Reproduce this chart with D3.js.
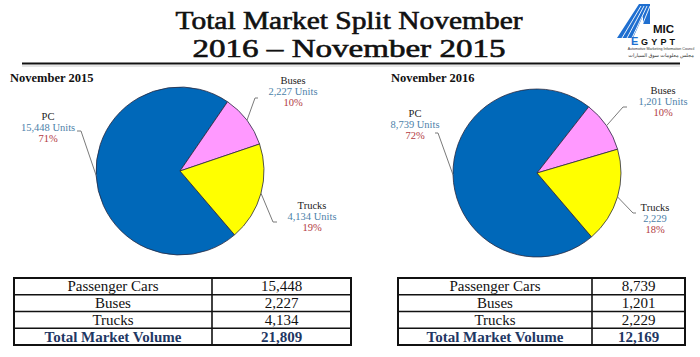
<!DOCTYPE html>
<html><head><meta charset="utf-8">
<script src="https://cdn.jsdelivr.net/npm/d3@7"></script>
<style>
html,body{margin:0;padding:0;background:#fff;}
svg{display:block;}
</style></head>
<body>
<svg id="chart" width="700" height="357"></svg>
<script>
// ---------- DATA ----------
const titleLines = ["Total Market Split November", "2016 \u2013 November 2015"];
const pieTitles = ["November 2015", "November 2016"];
const categories = ["PC", "Buses", "Trucks"];
const tableLabels = ["Passenger Cars", "Buses", "Trucks"];
const totalLabel = "Total Market Volume";
const values2015 = [15448, 2227, 4134];
const values2016 = [8739, 1201, 2229];
const pct2015 = ["71%", "10%", "19%"];
const pct2016 = ["72%", "10%", "18%"];
const unitLabels2015 = ["15,448 Units", "2,227 Units", "4,134 Units"];
const unitLabels2016 = ["8,739 Units", "1,201 Units", "2,229"];
const sliceColors = ["#0068b9", "#ff99ff", "#ffff00"];

// ---------- LAYOUT ----------
const svg = d3.select("#chart");
svg.append("rect").attr("width", 700).attr("height", 357).attr("fill", "#fff");
const serif = "'Liberation Serif', 'DejaVu Serif', serif";

// Title
const titleWidths = [347, 313];
svg.append("g").selectAll("text").data(titleLines).join("text")
  .attr("x", 349).attr("y", (d, i) => 29 + i * 28)
  .attr("text-anchor", "middle")
  .attr("font-family", serif).attr("font-size", 25).attr("fill", "#111")
  .attr("stroke", "#111").attr("stroke-width", 0.6)
  .attr("textLength", (d, i) => titleWidths[i]).attr("lengthAdjust", "spacingAndGlyphs")
  .text(d => d);

// underline
svg.append("line").attr("x1", 22).attr("x2", 680).attr("y1", 63.5).attr("y2", 63.5)
  .attr("stroke", "#111").attr("stroke-width", 2);
svg.append("line").attr("x1", 22).attr("x2", 680).attr("y1", 66).attr("y2", 66)
  .attr("stroke", "#ccc").attr("stroke-width", 1);

// Logo
const logo = svg.append("g");
logo.append("path").attr("d", "M617,38 L639,4 L650,4 L650,24 L643,24 L643,16 L633,38 Z").attr("fill", "#1f6fd0");
[0, 1, 2, 3].forEach(i => {
  logo.append("line").attr("x1", 622 + i * 5).attr("y1", 38).attr("x2", 641 + i * 3).attr("y2", 6)
    .attr("stroke", "#fff").attr("stroke-width", 0.9);
});
logo.append("text").attr("x", 653).attr("y", 33).attr("font-family", "'Liberation Sans', Arial, sans-serif")
  .attr("font-weight", "bold").attr("font-size", 11.5).attr("fill", "#111").text("MIC");
logo.append("text").attr("x", 631).attr("y", 44.5).attr("font-family", "'Liberation Sans', Arial, sans-serif")
  .attr("font-weight", "bold").attr("font-size", 11).attr("fill", "#1f6fd0").text("E");
logo.append("text").attr("x", 641).attr("y", 44.5).attr("font-family", "'Liberation Sans', Arial, sans-serif")
  .attr("font-weight", "bold").attr("font-size", 9).attr("letter-spacing", 3.2).attr("fill", "#111").text("GYPT");
logo.append("text").attr("x", 661).attr("y", 50).attr("text-anchor", "middle")
  .attr("font-family", "'Liberation Sans', Arial, sans-serif").attr("font-size", 3.6).attr("fill", "#333")
  .text("Automotive Marketing Information Council");
logo.append("text").attr("x", 661).attr("y", 57).attr("text-anchor", "middle")
  .attr("font-family", "'Noto Sans', 'DejaVu Sans', sans-serif").attr("font-size", 5).attr("fill", "#333")
  .text("مجلس معلومات سوق السيارات");

// ---------- PIES ----------
const r = 84;
const startA = 139.5 * Math.PI / 180;
const pieGen = d3.pie().sort(null).startAngle(startA).endAngle(startA + 2 * Math.PI);
const arcGen = d3.arc().innerRadius(0).outerRadius(r);
const edgeArc = d3.arc().innerRadius(r).outerRadius(r);

const charts = [
  { title: pieTitles[0], values: values2015, units: unitLabels2015, pct: pct2015,
    cx: 180, cy: 171, titleX: 10,
    lab: [ { elbow: [-99, -40], end: [-103, -40], tx: -132, ty: -51 },
           { elbow: [75, -73], end: [78, -73], tx: 113, ty: -87 },
           { elbow: [93, 51], end: [97, 51], tx: 132, ty: 38 } ] },
  { title: pieTitles[1], values: values2016, units: unitLabels2016, pct: pct2016,
    cx: 537, cy: 173, titleX: 391,
    lab: [ { elbow: [-99, -40], end: [-102, -40], tx: -122, ty: -56 },
           { elbow: [86, -66], end: [90, -66], tx: 126, ty: -79 },
           { elbow: [96, 40], end: [99, 40], tx: 118, ty: 38 } ] }
];

charts.forEach(c => {
  svg.append("text").attr("x", c.titleX).attr("y", 82)
    .attr("font-family", serif).attr("font-weight", "bold").attr("font-size", 12.5).attr("fill", "#111")
    .text(c.title);
  const g = svg.append("g").attr("transform", `translate(${c.cx},${c.cy})`);
  const arcs = pieGen(c.values);
  g.selectAll("path.slice").data(arcs).join("path").attr("class", "slice")
    .attr("d", arcGen).attr("fill", (d, i) => sliceColors[i])
    .attr("stroke", "#2a2a40").attr("stroke-width", 0.8);
  arcs.forEach((a, i) => {
    const p = edgeArc.centroid(a);
    const L = c.lab[i];
    g.append("polyline")
      .attr("points", [p, L.elbow, L.end].map(q => q.join(",")).join(" "))
      .attr("fill", "none").attr("stroke", "#7a7a7a").attr("stroke-width", 1);
    const lines = [[categories[i], "#222"], [c.units[i], "#4d7fa9"], [c.pct[i], "#b23a3f"]];
    lines.forEach(([txt, col], j) => {
      g.append("text").attr("text-anchor", "middle").attr("font-family", serif).attr("font-size", 10.5)
        .attr("x", L.tx).attr("y", L.ty + j * 11).attr("fill", col).text(txt);
    });
  });
});

// ---------- TABLES ----------
const fmt = d3.format(",");
const tables = [
  { values: values2015, x0: 14, xm: 212, x1: 351 },
  { values: values2016, x0: 398, xm: 592, x1: 685 }
];
const rowY = d3.scaleLinear().domain([0, 4]).range([278, 345]);
tables.forEach(tb => {
  const rows = tableLabels.map((l, i) => ({ label: l, value: fmt(tb.values[i]), total: false }));
  rows.push({ label: totalLabel, value: fmt(d3.sum(tb.values)), total: true });
  const g = svg.append("g");
  g.append("rect").attr("x", tb.x0).attr("y", rowY(0)).attr("width", tb.x1 - tb.x0).attr("height", rowY(4) - rowY(0))
    .attr("fill", "none").attr("stroke", "#111").attr("stroke-width", 2);
  [1, 2, 3].forEach(k => g.append("line").attr("x1", tb.x0).attr("x2", tb.x1)
    .attr("y1", rowY(k)).attr("y2", rowY(k)).attr("stroke", "#111").attr("stroke-width", 1.6));
  g.append("line").attr("x1", tb.xm).attr("x2", tb.xm).attr("y1", rowY(0)).attr("y2", rowY(4))
    .attr("stroke", "#111").attr("stroke-width", 1.6);
  rows.forEach((row, k) => {
    const y = (rowY(k) + rowY(k + 1)) / 2 + 5;
    [[row.label, (tb.x0 + tb.xm) / 2], [row.value, (tb.xm + tb.x1) / 2]].forEach(([txt, x]) => {
      g.append("text").attr("x", x).attr("y", y).attr("text-anchor", "middle")
        .attr("font-family", serif).attr("font-size", 15)
        .attr("font-weight", row.total ? "bold" : "normal")
        .attr("fill", row.total ? "#1f3864" : "#111").text(txt);
    });
  });
});
</script>
</body></html>
